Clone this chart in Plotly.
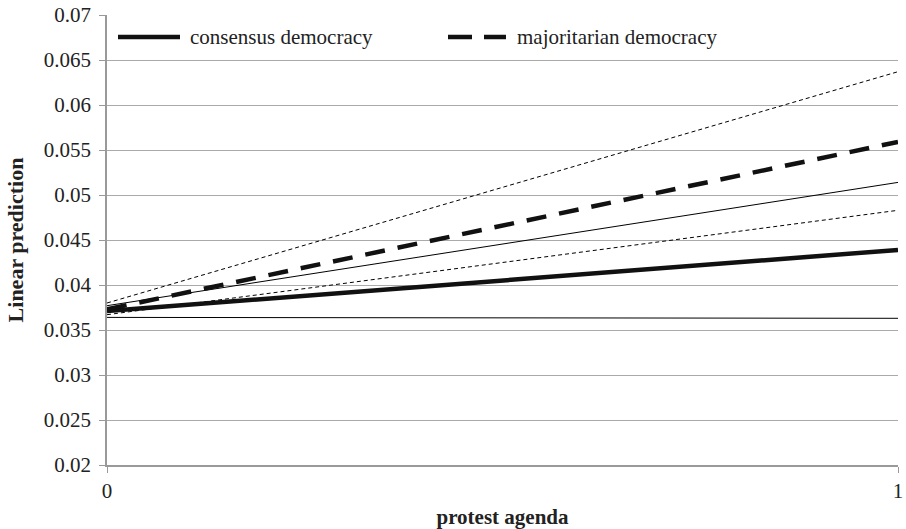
import plotly.graph_objects as go

x = [0, 1]
consensus = [0.0371, 0.0439]
consensus_hi = [0.0377, 0.0514]
consensus_lo = [0.0364, 0.0363]
majoritarian = [0.0373, 0.0559]
majoritarian_hi = [0.0380, 0.0637]
majoritarian_lo = [0.0367, 0.0483]

y_ticks = [0.02, 0.025, 0.03, 0.035, 0.04, 0.045, 0.05, 0.055, 0.06, 0.065, 0.07]
y_labels = ["0.02", "0.025", "0.03", "0.035", "0.04", "0.045", "0.05", "0.055", "0.06", "0.065", "0.07"]
legend_names = ["consensus democracy", "majoritarian democracy"]

SERIF = "Liberation Serif, Times New Roman, serif"

fig = go.Figure()
fig.add_trace(go.Scatter(x=x, y=majoritarian_hi, mode="lines", showlegend=False,
                         line=dict(color="black", width=1, dash="4px,3px")))
fig.add_trace(go.Scatter(x=x, y=majoritarian_lo, mode="lines", showlegend=False,
                         line=dict(color="black", width=1, dash="4px,3px")))
fig.add_trace(go.Scatter(x=x, y=consensus_hi, mode="lines", showlegend=False,
                         line=dict(color="black", width=1)))
fig.add_trace(go.Scatter(x=x, y=consensus_lo, mode="lines", showlegend=False,
                         line=dict(color="black", width=1)))
fig.add_trace(go.Scatter(x=x, y=consensus, mode="lines", name=legend_names[0], showlegend=False,
                         line=dict(color="#111111", width=4.5)))
fig.add_trace(go.Scatter(x=x, y=majoritarian, mode="lines", name=legend_names[1], showlegend=False,
                         line=dict(color="#111111", width=4.5, dash="20px,13px")))

# manual legend (inside plot, top-left)
ly = 0.951
fig.add_shape(type="line", xref="x domain", yref="y domain", x0=0.0139, x1=0.0923, y0=ly, y1=ly,
              line=dict(color="#111111", width=4.5))
fig.add_shape(type="line", xref="x domain", yref="y domain", x0=0.4311, x1=0.5044, y0=ly, y1=ly,
              line=dict(color="#111111", width=4.5, dash="24px,12px"))
fig.add_annotation(xref="x domain", yref="y domain", x=0.1024, y=ly, text=legend_names[0],
                   showarrow=False, xanchor="left", yanchor="middle",
                   font=dict(family=SERIF, size=21, color="#222222"))
fig.add_annotation(xref="x domain", yref="y domain", x=0.5158, y=ly, text=legend_names[1],
                   showarrow=False, xanchor="left", yanchor="middle",
                   font=dict(family=SERIF, size=21, color="#222222"))

fig.update_layout(
    width=906, height=529,
    margin=dict(l=107, r=8, t=15, b=64),
    paper_bgcolor="white", plot_bgcolor="white",
    font=dict(family=SERIF, color="#222222", size=21),
    showlegend=False,
    xaxis=dict(range=[0, 1], tickvals=[0, 1], ticktext=["0", "1"], showgrid=False,
               zeroline=False, showline=True, linecolor="#999999", linewidth=1.5,
               ticks="outside", ticklen=6, tickcolor="#999999", automargin=False,
               tickfont=dict(family=SERIF, size=21, color="#222222"),
               title=dict(text="<b>protest agenda</b>", font=dict(family=SERIF, size=21), standoff=14)),
    yaxis=dict(range=[0.02, 0.07], tickvals=y_ticks, ticktext=y_labels, showgrid=True,
               gridcolor="#aaaaaa", gridwidth=1.2, zeroline=False, showline=True,
               linecolor="#999999", linewidth=1.5, ticks="outside", ticklen=6,
               tickcolor="#999999", ticklabelstandoff=4, automargin=False,
               tickfont=dict(family=SERIF, size=21, color="#222222"),
               title=dict(text="<b>Linear prediction</b>", font=dict(family=SERIF, size=22), standoff=14)),
)

fig.write_html("out.html")
